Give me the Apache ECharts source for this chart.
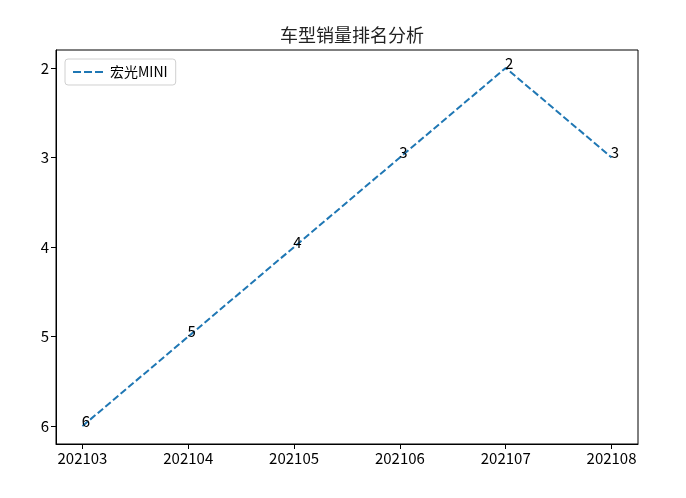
<!DOCTYPE html>
<html><head><meta charset="utf-8">
<script src="https://cdn.jsdelivr.net/npm/echarts@6/dist/echarts.min.js"></script>
<style>html,body{margin:0;padding:0;background:#fff}#c{width:686px;height:498px}</style>
</head><body><div id="c"></div>
<script>
const title = '车型销量排名分析';
const seriesName = '宏光MINI';
const categories = ['202103','202104','202105','202106','202107','202108'];
const ranks = [6, 5, 4, 3, 2, 3];
const yTicks = [2, 3, 4, 5, 6];

const xIdx = categories.map((c, i) => i);
const data = categories.map((c, i) => [i, ranks[i]]);
const font = '"Noto Sans CJK SC", sans-serif';

const chart = echarts.init(document.getElementById('c'));
chart.setOption({
  animation: false,
  backgroundColor: '#fff',
  title: {
    text: title, left: 347, top: 21, textAlign: 'center',
    textStyle: { fontFamily: font, fontSize: 18, fontWeight: 'normal', color: '#222' }
  },
  legend: {
    left: 65, top: 59,
    padding: [6, 8, 6, 8],
    backgroundColor: '#fff', borderColor: '#d0d0d0', borderWidth: 1, borderRadius: 3,
    itemWidth: 30, itemHeight: 2, itemGap: 8,
    textStyle: { fontFamily: font, fontSize: 14, color: '#000', padding: [0, 0, 0, 2] },
    data: [{ name: seriesName, icon: 'path://M0,0h8v2h-8z M11,0h8v2h-8z M22,0h8v2h-8z',
      itemStyle: { color: '#1f77b4', opacity: 1 } }]
  },
  grid: { left: 56, right: 48, top: 50, bottom: 54, show: true, borderColor: '#000', borderWidth: 1, backgroundColor: 'transparent' },
  xAxis: {
    type: 'value', min: -0.25, max: 5.25,
    axisLine: { show: true, onZero: false, lineStyle: { color: '#000' } },
    axisTick: { show: true, inside: false, length: 5, customValues: xIdx, lineStyle: { color: '#000' } },
    axisLabel: { customValues: xIdx, margin: 7, color: '#000', fontFamily: font, fontSize: 15,
      formatter: v => categories[Math.round(v)] },
    splitLine: { show: false }
  },
  yAxis: {
    type: 'value', inverse: true, min: 1.8, max: 6.2,
    axisLine: { show: true, onZero: false, lineStyle: { color: '#000' } },
    axisTick: { show: true, inside: false, length: 5, customValues: yTicks, lineStyle: { color: '#000' } },
    axisLabel: { customValues: yTicks, margin: 7, color: '#000', fontFamily: font, fontSize: 15 },
    splitLine: { show: false }
  },
  series: [{
    name: seriesName, type: 'line', data: data,
    symbol: 'circle', symbolSize: 0.5, showSymbol: true,
    lineStyle: { color: '#1f77b4', width: 2, type: [7, 3] },
    itemStyle: { color: '#1f77b4' },
    label: {
      show: true, position: 'right', distance: 0, offset: [-1, -5],
      color: '#000', fontFamily: font, fontSize: 15,
      formatter: p => String(p.value[1])
    }
  }]
});
</script></body></html>
